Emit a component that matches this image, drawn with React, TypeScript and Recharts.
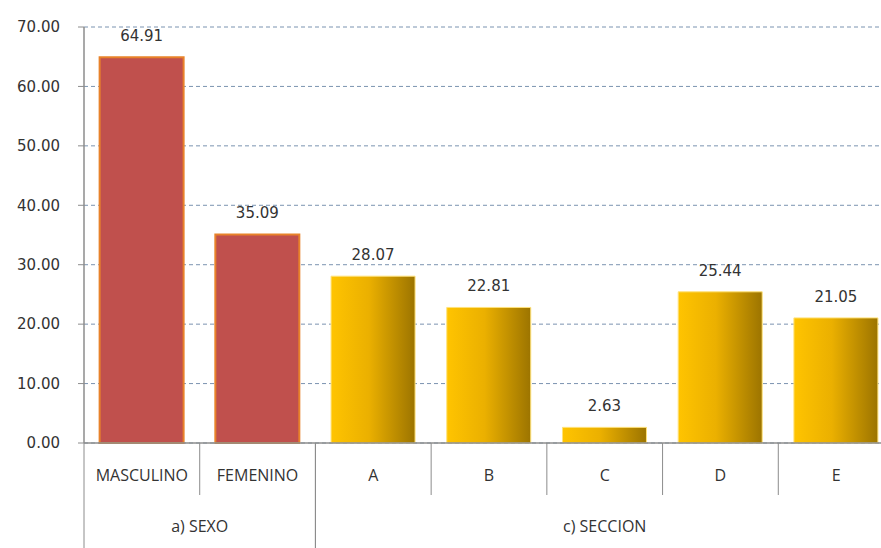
import React from 'react';
import { BarChart, Bar, XAxis, YAxis, CartesianGrid, Cell, LabelList } from 'recharts';

// Category labels, their group, and the percentage for each bar
const categories = ['MASCULINO', 'FEMENINO', 'A', 'B', 'C', 'D', 'E'];
const groups = ['a) SEXO', 'a) SEXO', 'c) SECCION', 'c) SECCION', 'c) SECCION', 'c) SECCION', 'c) SECCION'];
const values = [64.91, 35.09, 28.07, 22.81, 2.63, 25.44, 21.05];
const yTicks = [0, 10, 20, 30, 40, 50, 60, 70];

const data = categories.map((name, i) => ({ name, group: groups[i], value: values[i] }));

const CHART_W = 896;
const CHART_H = 548;
const MARGIN = { top: 27, right: 2, left: 0, bottom: 0 };
const Y_AXIS_W = 84;
const X_AXIS_H = 105;
const FALLBACK_HALF_BAND = (CHART_W - Y_AXIS_W - MARGIN.right) / categories.length / 2;

const LINE = '#8c8c8c';
const TEXT = '#333333';

function CategoryTick(props: any) {
  const { x, y, payload } = props;
  const idx: number = payload.index;
  const half: number = payload.offset > 0 ? payload.offset : FALLBACK_HALF_BAND;
  const group = groups[idx];
  const firstOfGroup = idx === 0 || groups[idx - 1] !== group;
  const lastOfGroup = idx === groups.length - 1 || groups[idx + 1] !== group;
  const groupCount = groups.filter((g) => g === group).length;
  const bottom = CHART_H;
  return (
    <g>
      <text
        x={x}
        y={y + 38}
        textAnchor="middle"
        fontFamily="'Open Sans', sans-serif"
        fontSize={16}
        fill={TEXT}
      >
        {payload.value}
      </text>
      {/* right edge of the category cell */}
      <line
        x1={x + half}
        x2={x + half}
        y1={y}
        y2={lastOfGroup ? bottom : y + 52}
        stroke={LINE}
        strokeWidth={1}
      />
      {firstOfGroup && (
        <>
          <line x1={x - half} x2={x - half} y1={y} y2={bottom} stroke={LINE} strokeWidth={1} />
          <text
            x={x + (groupCount - 1) * half}
            y={y + 89}
            textAnchor="middle"
            fontFamily="'Open Sans', sans-serif"
            fontSize={16}
            fill={TEXT}
          >
            {group}
          </text>
        </>
      )}
    </g>
  );
}

export default function App() {
  return (
    <div
      style={{
        position: 'absolute',
        left: 0,
        top: 0,
        width: 881,
        height: 548,
        overflow: 'hidden',
        background: '#ffffff',
      }}
    >
      <BarChart width={CHART_W} height={CHART_H} data={data} margin={MARGIN} barCategoryGap="13.5%">
        <defs>
          <linearGradient id="goldGrad" x1="0" y1="0" x2="1" y2="0">
            <stop offset="0%" stopColor="#FFC400" />
            <stop offset="45%" stopColor="#EBB000" />
            <stop offset="100%" stopColor="#9C7400" />
          </linearGradient>
        </defs>
        <CartesianGrid vertical={false} stroke="#7b93b0" strokeDasharray="4 3" />
        <XAxis
          dataKey="name"
          height={X_AXIS_H}
          axisLine={{ stroke: LINE, strokeWidth: 1.5 }}
          tickLine={false}
          tickSize={0}
          tickMargin={0}
          interval={0}
          tick={<CategoryTick />}
        />
        <YAxis
          width={Y_AXIS_W}
          domain={[0, 70]}
          ticks={yTicks}
          interval={0}
          axisLine={{ stroke: LINE, strokeWidth: 1.5 }}
          tickLine={{ stroke: LINE }}
          tickSize={6}
          tickMargin={18}
          tickFormatter={(v: number) => v.toFixed(2)}
          tick={{ fontFamily: "'DejaVu Sans', sans-serif", fontSize: 15, fill: TEXT }}
        />
        <Bar dataKey="value" isAnimationActive={false}>
          {data.map((d, i) => (
            <Cell
              key={d.name}
              fill={d.group === 'a) SEXO' ? '#C0504D' : 'url(#goldGrad)'}
              stroke={d.group === 'a) SEXO' ? '#E8822A' : '#FFE27A'}
              strokeWidth={d.group === 'a) SEXO' ? 2 : 1}
            />
          ))}
          <LabelList
            dataKey="value"
            position="top"
            offset={16}
            formatter={(v: number) => v.toFixed(2)}
            fontFamily="'DejaVu Sans', sans-serif"
            fontSize={15}
            fill={TEXT}
          />
        </Bar>
      </BarChart>
    </div>
  );
}
